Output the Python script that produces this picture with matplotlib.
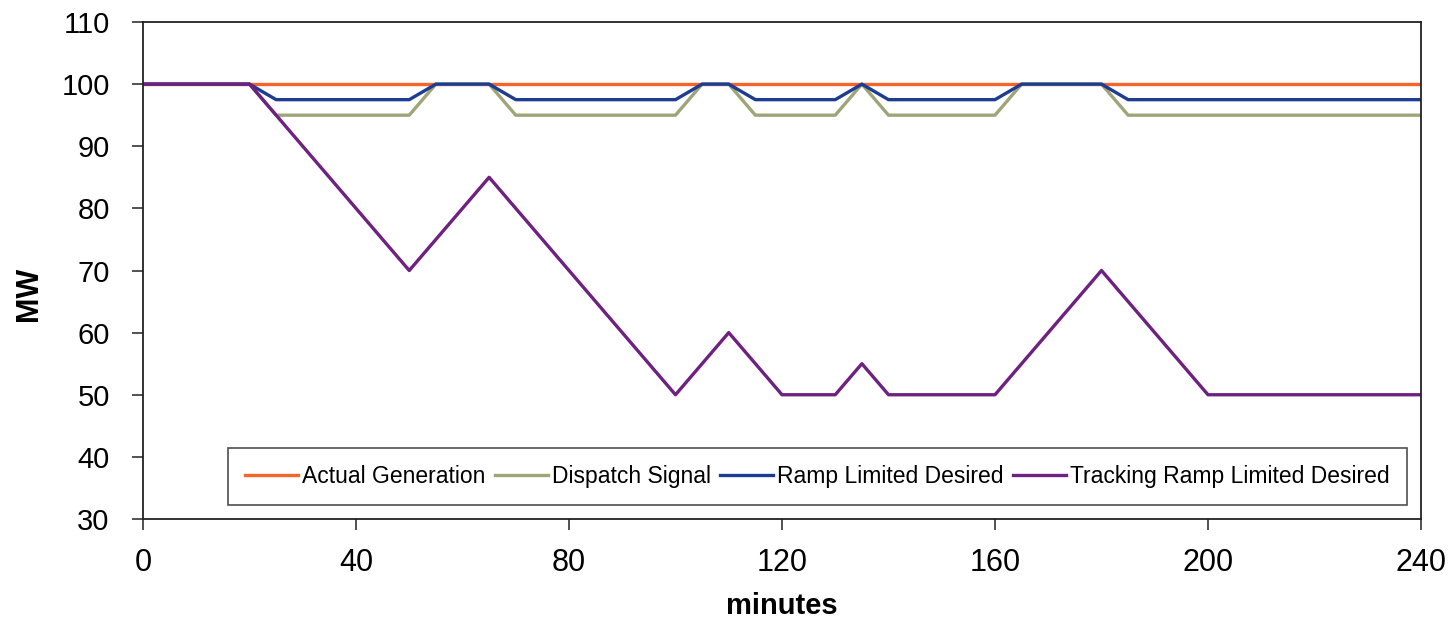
import matplotlib
matplotlib.use('Agg')
import matplotlib.pyplot as plt

plt.rcParams['font.family'] = ['Liberation Sans', 'DejaVu Sans']

# breakpoints (minutes, MW)
actual_t = [0, 240]
actual_mw = [100, 100]

step_t = [0, 20, 25, 50, 55, 65, 70, 100, 105, 110, 115, 130, 135, 140, 160, 165, 180, 185, 240]
dispatch_mw = [100, 100, 95, 95, 100, 100, 95, 95, 100, 100, 95, 95, 100, 95, 95, 100, 100, 95, 95]
ramp_mw = [100, 100, 97.5, 97.5, 100, 100, 97.5, 97.5, 100, 100, 97.5, 97.5, 100, 97.5, 97.5, 100, 100, 97.5, 97.5]

track_t = [0, 20, 50, 65, 100, 110, 120, 130, 135, 140, 160, 180, 200, 240]
track_mw = [100, 100, 70, 85, 50, 60, 50, 50, 55, 50, 50, 70, 50, 50]

xticks = [0, 40, 80, 120, 160, 200, 240]
yticks = [30, 40, 50, 60, 70, 80, 90, 100, 110]

fig = plt.figure(figsize=(14.55, 6.25), dpi=100)
ax = fig.add_axes([143 / 1455, 1 - 519 / 625, 1278 / 1455, 497 / 625])

lw = 2.4
ax.plot(actual_t, actual_mw, color='#F7642A', lw=lw, label='Actual Generation')
ax.plot(step_t, dispatch_mw, color='#9EA679', lw=lw, label='Dispatch Signal')
ax.plot(step_t, ramp_mw, color='#1D3C92', lw=lw, label='Ramp Limited Desired')
ax.plot(track_t, track_mw, color='#6E2180', lw=lw, label='Tracking Ramp Limited Desired')

ax.set_xlim(0, 240)
ax.set_ylim(30, 110)
ax.set_xticks(xticks)
ax.set_yticks(yticks)
ax.tick_params(direction='out', length=8, width=1.2, color='#333333')
ax.tick_params(axis='y', labelsize=21, pad=16)
ax.tick_params(axis='x', labelsize=22, pad=13)
for s in ax.spines.values():
    s.set_linewidth(1.3)
    s.set_color('#222222')

fig.text(782 / 1455, 1 - 606 / 625, 'minutes', fontsize=21,
         fontweight='bold', ha='center', va='center')
fig.text(29 / 1455, 1 - 294 / 625, 'MW', fontsize=22,
         fontweight='bold', rotation=90, ha='center', va='center')

leg = ax.legend(loc='lower left', bbox_to_anchor=(0.0665, 0.028, 0.9225, 0.121),
                mode='expand', ncol=4, fontsize=16.5, frameon=True, fancybox=False,
                edgecolor='#222222', handlelength=2.3, handletextpad=0.2,
                borderaxespad=0, borderpad=0.75)
leg.get_frame().set_linewidth(1.2)

fig.savefig('out.png', dpi=100)
